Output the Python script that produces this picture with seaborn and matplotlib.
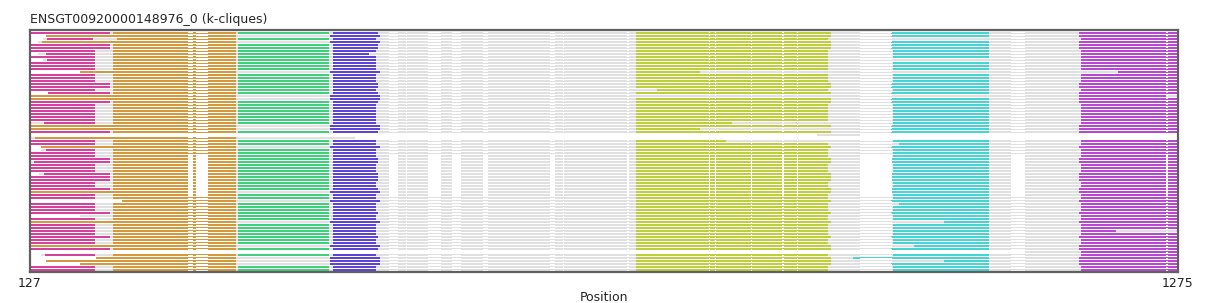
import matplotlib
matplotlib.use("Agg")
import matplotlib.pyplot as plt
import seaborn as sns
import pandas as pd

title = "ENSGT00920000148976_0 (k-cliques)"
x_min, x_max = 127, 1275
xlabel = "Position"

block_names = ["pink", "orange", "green", "blue", "yg", "cyan", "purple"]
block_colors = ["#d640a0", "#d4993f", "#40d07c", "#5c44d4", "#bccf3c", "#48d4d4", "#b848d0"]
grey_color = "#e0e0e0"

# extents of each clique block for the three main row kinds (sequence positions)
kind_S = {"pink": (128, 192), "orange": (210, 333), "green": (335, 426), "blue": (430, 473),
          "yg": (733, 925), "cyan": (990, 1086), "purple": (1178, 1275), "grey": (128, 1275)}
kind_L = {"pink": (128, 207), "orange": (210, 333), "green": (335, 426), "blue": (430, 475),
          "yg": (733, 928), "cyan": (988, 1086), "purple": (1176, 1275), "grey": (128, 1275)}
kind_O = {"pink": None, "orange": (128, 333), "green": None, "blue": (427, 477),
          "yg": (733, 928), "cyan": (988, 1086), "purple": (1176, 1275), "grey": (128, 1275)}
kind_B = {"pink": None, "orange": None, "green": None, "blue": None,
          "yg": None, "cyan": None, "purple": None, "grey": None}

row_kind = ("L O S O L L S S S S S S S O S S S L L S "
            "L O O L S S S S S S S O O L B O S S O S "
            "S S L L S S S L L L S S L O S S O S S S "
            "L S S O S S S S L S S O L B S O O O S S").split()

# per-row deviations
overrides = {
    1: {"orange": (143, 333), "grey": (143, 1275)},
    2: {"pink": (144, 190), "orange": (214, 333), "cyan": None, "grey": (140, 1275)},
    3: {"orange": (139, 333), "grey": (135, 1275)},
    7: {"pink": (143, 192), "blue": (430, 466), "grey": (135, 1275)},
    9: {"pink": (144, 192), "cyan": None, "grey": (140, 1275)},
    13: {"orange": (177, 333), "yg": (733, 797), "cyan": None, "purple": (1215, 1275), "grey": (177, 1275)},
    19: {"yg": (754, 925)},
    20: {"pink": (145, 207), "grey": (145, 1275)},
    21: {"yg": None, "cyan": None, "purple": (1176, 1263)},
    30: {"pink": (141, 192), "yg": (733, 829)},
    32: {"yg": (733, 797)},
    34: {"grey": (914, 957)},
    35: {"orange": (132, 333), "blue": None, "yg": None, "cyan": None, "purple": None, "grey": (128, 452)},
    36: {"yg": (733, 823)},
    37: {"cyan": (996, 1086)},
    38: {"orange": (138, 333), "grey": (138, 1275)},
    39: {"pink": (143, 192), "grey": (138, 1275)},
    43: {"pink": (131, 207)},
    47: {"pink": (141, 207), "grey": (136, 1275)},
    56: {"orange": (219, 333), "grey": (219, 1275)},
    57: {"cyan": (996, 1086)},
    61: {"pink": None, "grey": (177, 1275)},
    63: {"cyan": (1041, 1086)},
    66: {"purple": (1178, 1213)},
    71: {"cyan": (1011, 1086)},
    73: {"purple": (1178, 1275), "grey": (1122, 1275)},
    74: {"pink": (142, 192), "grey": (138, 1275)},
    75: {"orange": (193, 333), "cyan": (950, 1086), "grey": (193, 1275)},
    76: {"orange": (143, 333), "cyan": (1041, 1086), "grey": (143, 1275)},
    77: {"orange": (177, 333), "grey": (177, 1275)},
}

# alignment gap columns (white)
gap_starts = [285, 293, 486, 503, 525, 549, 580, 647, 660, 724, 806, 812, 848, 879, 894, 957, 1108, 1263]
gap_ends = [290, 305, 495, 504, 538, 558, 585, 652, 661, 726, 807, 813, 849, 881, 895, 989, 1122, 1265]

kinds = {"S": kind_S, "L": kind_L, "O": kind_O, "B": kind_B}

records = []
for r, k in enumerate(row_kind):
    spec = dict(kinds[k])
    spec.update(overrides.get(r, {}))
    g = spec["grey"]
    if g is not None:
        records.append((r, g[0], g[1], grey_color, 0))
    for name, col in zip(block_names, block_colors):
        ext = spec[name]
        if ext is not None:
            records.append((r, ext[0], ext[1], col, 1))
    if g is not None:
        for gs, ge in zip(gap_starts, gap_ends):
            if ge > g[0] and gs < g[1]:
                records.append((r, gs, ge, "#ffffff", 2))

seg = pd.DataFrame(records, columns=["row", "start", "end", "color", "layer"])

sns.set_theme(style="white")
plt.rcParams["font.family"] = ["DejaVu Sans"]

fig = plt.figure(figsize=(12.08, 3.03), dpi=100)
ax = fig.add_axes([30 / 1208, 1 - 272 / 303, 1148 / 1208, 242 / 303])

for layer, h in [(0, 0.68), (1, 0.68), (2, 0.36)]:
    d = seg[seg["layer"] == layer]
    ax.barh(d["row"], d["end"] - d["start"], left=d["start"], height=h,
            color=d["color"], linewidth=0)

ax.set_xlim(x_min, x_max)
ax.set_ylim(len(row_kind) - 0.5 + 0.1, -0.9)
ax.set_yticks([])
ax.set_xticks([x_min, x_max])
ax.set_xticklabels([str(x_min), str(x_max)], fontsize=9)
ax.tick_params(axis="x", length=2, pad=1.5, colors="#222222")
ax.set_xlabel(xlabel, fontsize=9, labelpad=1)
for s in ax.spines.values():
    s.set_visible(True)
    s.set_color("#606060")
    s.set_linewidth(1.6)
ax.set_title(title, loc="left", fontsize=9, pad=5)

fig.savefig("out.png", dpi=100)
